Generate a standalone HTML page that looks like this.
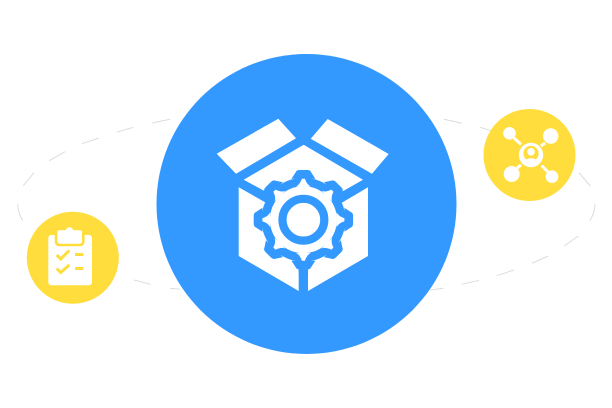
<!DOCTYPE html>
<html>
<head>
<meta charset="utf-8">
<style>
html,body{margin:0;padding:0;background:#fff;width:612px;height:408px;overflow:hidden}
svg{display:block}
</style>
</head>
<body>
<svg width="612" height="408" viewBox="0 0 612 408" xmlns="http://www.w3.org/2000/svg">
<defs>
<path id="t" d="M-7.5 -33.2Q-3.5 -35 -1.5 -41L1.5 -41Q3.5 -35 7.5 -33.2Z"/>
<path id="b" d="M-12 -41L-8 -47Q-7 -49.7 -4 -49.7L4 -49.7Q7 -49.7 8 -47L12 -41Z"/>
<g id="teeth">
<use href="#t"/>
<use href="#t" transform="rotate(45)"/>
<use href="#t" transform="rotate(90)"/>
<use href="#t" transform="rotate(135)"/>
<use href="#t" transform="rotate(180)"/>
<use href="#t" transform="rotate(225)"/>
<use href="#t" transform="rotate(270)"/>
<use href="#t" transform="rotate(315)"/>
</g>
<g id="bteeth">
<use href="#b"/>
<use href="#b" transform="rotate(45)"/>
<use href="#b" transform="rotate(90)"/>
<use href="#b" transform="rotate(135)"/>
<use href="#b" transform="rotate(180)"/>
<use href="#b" transform="rotate(225)"/>
<use href="#b" transform="rotate(270)"/>
<use href="#b" transform="rotate(315)"/>
</g>
</defs>

<!-- dashed orbit -->
<g fill="none" stroke="#dcdcdc" stroke-width="1">
<path d="M170 119.3L152.3 123M133.3 127.3L116.7 132.3M99 138L81.7 143.7M65 151.7L49.3 160.7M34 172.7L23.3 185.7M17.7 204.3Q18 213 22.7 220.7"/>
<path d="M134 280L150.7 284.3M170 288.3L180 289.3"/>
<path d="M444 119.3L461.7 123.3M480 127.3L490.7 130.7M579 172.7L590.3 186M595 204.3Q595 212 590 220.7M578.3 236L564.3 246M548 256L532 263.3M514 270L496.7 275.7M479 280.3L461.7 284.3M443.3 288.3L430 290"/>
</g>

<!-- main circle -->
<circle cx="306.5" cy="204" r="150" fill="#3399ff"/>

<!-- box -->
<g fill="#fff">
<polygon points="278.3,118.7 296,138.3 236,173.7 216.7,153.7"/>
<polygon points="327.7,119 388.7,154 372,173.7 310.7,138.7"/>
<polygon points="303.7,144.7 363,179.7 343.7,190.7 304,205 264,190.7 243.7,179.7"/>
<polygon points="238.7,187.3 270,205 298.7,240 298.7,291 238.7,256"/>
<polygon points="368,187.3 338,205 308,240 308,291 368,256"/>
</g>

<!-- gear -->
<g transform="translate(303.4 219.7)">
<circle r="42" fill="#3399ff"/>
<use href="#bteeth" fill="#3399ff"/>
<rect x="-4.7" y="40" width="9.4" height="14" fill="#3399ff"/>
<circle r="33.5" fill="#fff"/>
<use href="#teeth" fill="#fff"/>
<circle r="20.9" fill="#fff" stroke="#3399ff" stroke-width="8.2"/>
</g>

<!-- right yellow circle -->
<circle cx="529.5" cy="155" r="46" fill="#ffdd3c"/>
<g fill="#fff">
<circle cx="509.5" cy="133.3" r="6.3"/>
<circle cx="550.7" cy="136" r="7.7"/>
<circle cx="511.7" cy="174" r="8"/>
<circle cx="552" cy="176.7" r="6.3"/>
<circle cx="531" cy="155" r="12.2"/>
</g>
<g stroke="#fff" stroke-width="3" fill="none">
<path d="M514 138L521 144.5"/>
<path d="M545 143L541 146"/>
<path d="M517 168L521 165"/>
<path d="M541.5 165.5L548 172"/>
</g>
<circle cx="531" cy="153.5" r="7.6" fill="#ffdd3c"/>
<circle cx="531" cy="151.8" r="3.8" fill="#fff"/>
<path d="M523.5 164Q524.5 158.3 531 158.3Q537.5 158.3 538.5 164Q531 169 523.5 164Z" fill="#fff"/>

<!-- left yellow circle -->
<circle cx="72.8" cy="257.7" r="46" fill="#ffdd3c"/>
<rect x="48.3" y="235" width="43.7" height="50.3" rx="3" fill="#fff"/>
<path d="M56 232Q56 229 59 229L65 229Q66 226 69.5 226Q73 226 74 229L80.3 229Q83.3 229 83.3 232L83.3 241Q83.3 245 79.5 245L60 245Q56 245 56 241Z" fill="#fff" stroke="#ffdd3c" stroke-width="2.6" stroke-linejoin="round"/>
<g fill="none" stroke="#ffdd3c" stroke-width="3">
<path d="M56.7 255L60.7 259L69.3 250.5"/>
<path d="M56.7 268.5L60.7 272.5L69.3 265"/>
<path d="M75 254.5H83.3"/>
<path d="M75 268.5H83.3"/>
</g>
</svg>
</body>
</html>
